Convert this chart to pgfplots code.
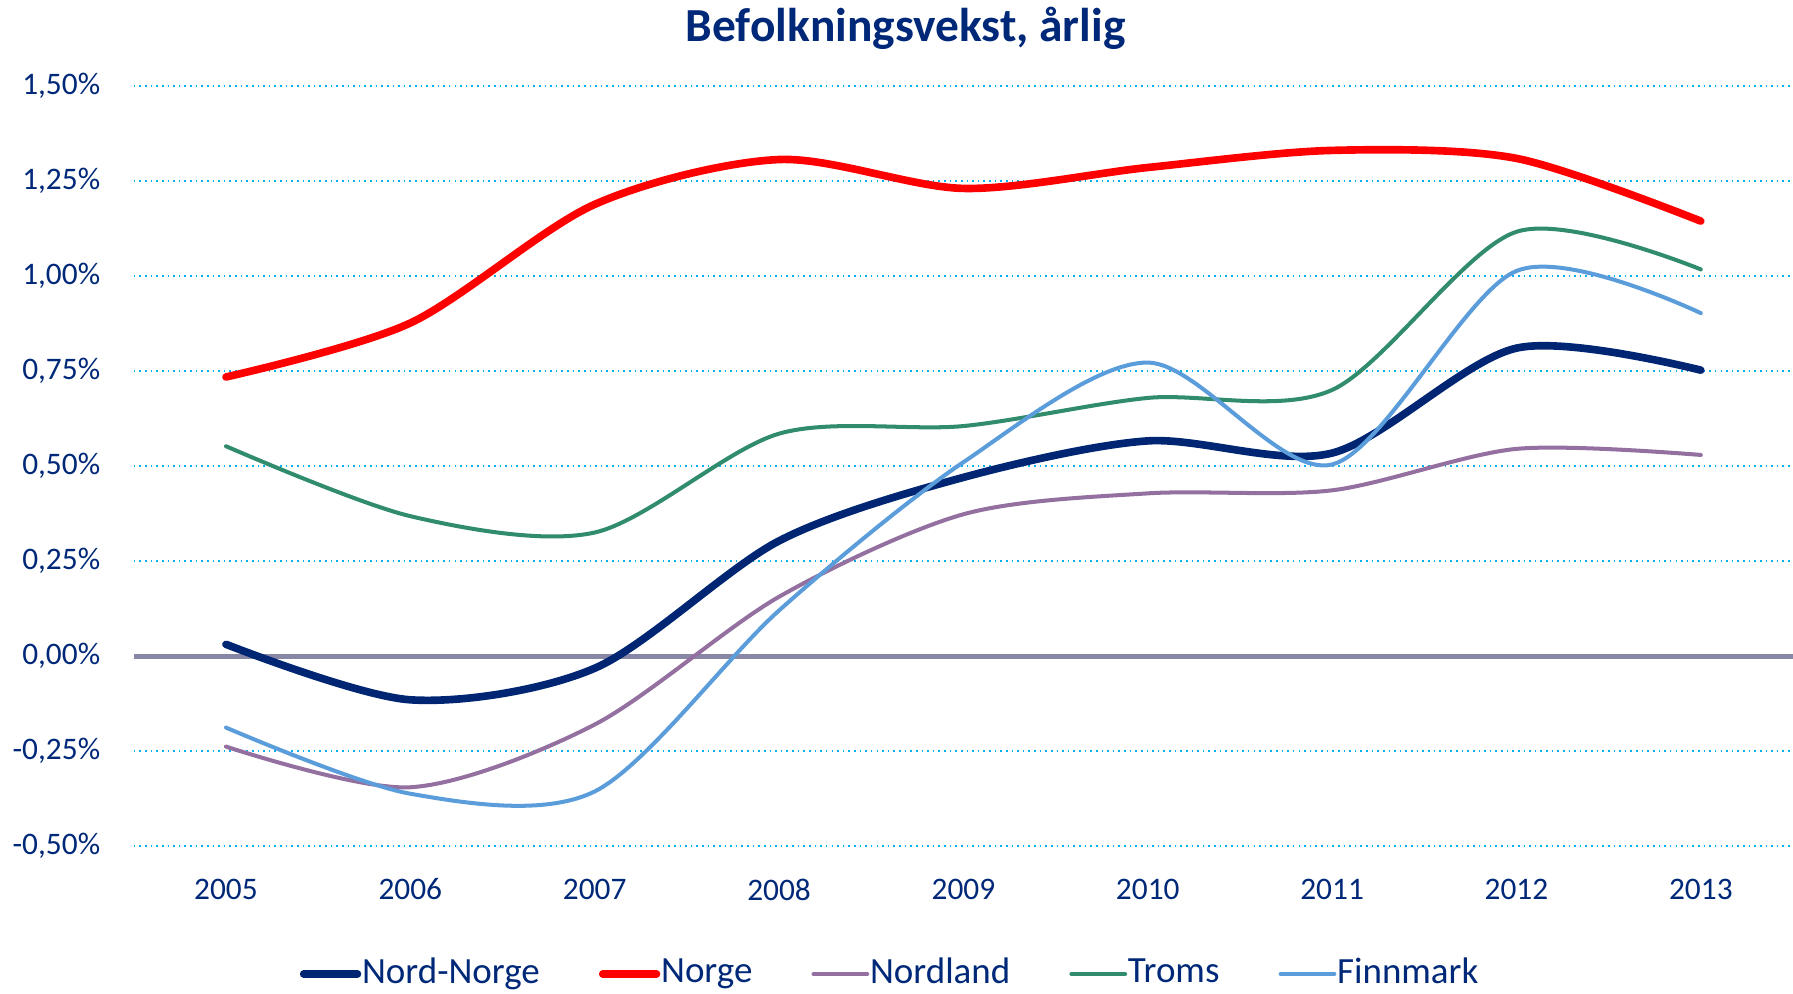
\documentclass[border=0pt]{standalone}
\usepackage{pgfplots}
\pgfplotsset{compat=1.18}
\usepackage{fontspec}
\setmainfont{Carlito}
\usetikzlibrary{calc}
\definecolor{navytext}{RGB}{0,40,120}
\definecolor{cNN}{RGB}{0,38,115}
\definecolor{cNO}{RGB}{255,0,0}
\definecolor{cNL}{RGB}{148,112,160}
\definecolor{cTR}{RGB}{48,140,108}
\definecolor{cFM}{RGB}{91,157,218}
\definecolor{cgrid}{RGB}{0,176,240}
\definecolor{czero}{RGB}{136,136,166}
\begin{document}
\begin{tikzpicture}
\begin{axis}[
  name=ax,
  scale only axis,
  width=145.1mm, height=66.5mm,
  xmin=2004.5, xmax=2013.5,
  ymin=-0.5, ymax=1.5,
  axis line style={draw=none},
  tick style={draw=none},
  xtick={2005,2006,2007,2008,2009,2010,2011,2012,2013},
  xticklabels={2005,2006,2007,2008,2009,2010,2011,2012,2013},
  ytick={-0.5,-0.25,0.25,0.5,0.75,1,1.25,1.5},
  yticklabels={-0{,}50\%,-0{,}25\%,0{,}25\%,0{,}50\%,0{,}75\%,1{,}00\%,1{,}25\%,1{,}50\%},
  ymajorgrids,
  major grid style={cgrid, densely dotted, line width=0.6pt},
  extra y ticks={0},
  extra y tick labels={0{,}00\%},
  extra y tick style={major grid style={solid, czero, line width=1.2pt}},
  every tick label/.append style={font=\fontsize{7.8pt}{9pt}\selectfont, text=navytext},
  yticklabel style={xshift=-1.7mm},
  xticklabel style={yshift=-1.6mm},
  legend columns=5,
  legend style={draw=none, fill=none, at={(0.4555,-0.168)}, anchor=center,
    font=\fontsize{9.2pt}{11pt}\selectfont, text=navytext,
    nodes={inner sep=0.2pt},
    /tikz/every even column/.append style={column sep=5.1mm},
    inner sep=0pt},
  legend image code/.code={\draw[#1, line cap=round] (0mm,0mm) -- (4.7mm,0mm);},
  legend cell align=left,
  clip=false,
]
\addplot[cNN, line width=1.9pt, smooth, line cap=round] coordinates {
 (2005,0.031) (2006,-0.115) (2007,-0.032) (2008,0.303) (2009,0.470) (2010,0.566) (2011,0.534) (2012,0.810) (2013,0.752)};
\addlegendentry{Nord-Norge}
\addplot[cNO, line width=1.9pt, smooth, line cap=round] coordinates {
 (2005,0.734) (2006,0.876) (2007,1.188) (2008,1.306) (2009,1.230) (2010,1.285) (2011,1.330) (2012,1.309) (2013,1.144)};
\addlegendentry{Norge}
\addplot[cNL, line width=1.0pt, smooth, line cap=round] coordinates {
 (2005,-0.238) (2006,-0.345) (2007,-0.180) (2008,0.156) (2009,0.373) (2010,0.428) (2011,0.436) (2012,0.545) (2013,0.529)};
\addlegendentry{Nordland}
\addplot[cTR, line width=1.0pt, smooth, line cap=round] coordinates {
 (2005,0.552) (2006,0.368) (2007,0.325) (2008,0.585) (2009,0.605) (2010,0.679) (2011,0.700) (2012,1.116) (2013,1.017)};
\addlegendentry{Troms}
\addplot[cFM, line width=1.0pt, smooth, line cap=round] coordinates {
 (2005,-0.188) (2006,-0.362) (2007,-0.356) (2008,0.120) (2009,0.510) (2010,0.772) (2011,0.504) (2012,1.013) (2013,0.902)};
\addlegendentry{Finnmark}
\end{axis}
\node[font=\bfseries\fontsize{11.8pt}{14pt}\selectfont, text=navytext] at ($(ax.north west)+(67.5mm,5mm)$) {Befolkningsvekst, årlig};
\pgfresetboundingbox
\path[use as bounding box] ($(ax.south west)+(-11.7mm,-12.9mm)$) rectangle ($(ax.north east)+(0,7.5mm)$);
\end{tikzpicture}
\end{document}
